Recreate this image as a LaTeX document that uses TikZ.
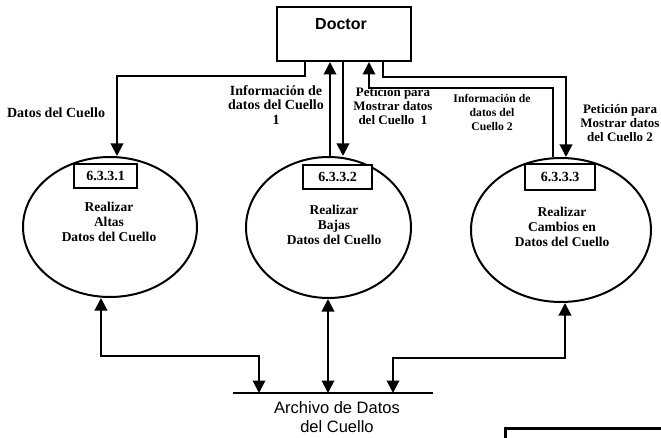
\documentclass[tikz,border=0pt]{standalone}
\usepackage{fontspec}
\setmainfont{Liberation Serif}
\setsansfont{Liberation Sans}
\usetikzlibrary{arrows.meta,shapes.geometric,calc}

\tikzset{
  tip/.tip={Triangle[length=12.5pt,width=12.5pt]},
  flow/.style={line width=2pt, -tip},
  twoway/.style={line width=2pt, tip-tip},
  process/.style={draw, ellipse, line width=2pt, inner sep=0pt},
  numbox/.style={draw, line width=2pt, fill=white, inner sep=0pt,
    font=\bfseries\fontsize{14}{14}\selectfont},
  proctext/.style={align=center, anchor=north, inner sep=0pt,
    font=\bfseries\fontsize{13.5}{15}\selectfont},
  flowlabel/.style={align=center, anchor=north, inner sep=0pt,
    font=\bfseries\fontsize{14}{14.5}\selectfont},
  smalllabel/.style={align=center, anchor=north, inner sep=0pt,
    font=\bfseries\fontsize{11.7}{14}\selectfont},
  entity/.style={draw, line width=2pt, inner sep=0pt},
}

\begin{document}
\begin{tikzpicture}[x=1pt,y=-1pt]
\useasboundingbox (0,0) rectangle (661,438);

% external entity
\node[entity, minimum width=134pt, minimum height=54pt] (doctor) at (344,34) {};
\node[font=\sffamily\bfseries\fontsize{16}{16}\selectfont] (doctortext) at (341,24) {Doctor};

% processes
\node[process, minimum width=174pt, minimum height=140pt] (e1) at (110,227) {};
\node[process, minimum width=165pt, minimum height=141pt] (e2) at (328.5,227.5) {};
\node[process, minimum width=180pt, minimum height=144pt] (e3) at (561,230) {};

\node[numbox, minimum width=63pt, minimum height=24pt] (n1) at (105.5,176) {6.3.3.1};
\node[numbox, minimum width=69pt, minimum height=24pt] (n2) at (337.5,177) {6.3.3.2};
\node[numbox, minimum width=70pt, minimum height=26pt] (n3) at (560,177) {6.3.3.3};

\node[proctext] (t1) at (109,202) {Realizar\\Altas\\Datos del Cuello};
\node[proctext] (t2) at (334,205) {Realizar\\Bajas\\Datos del Cuello};
\node[proctext] (t3) at (562,207) {Realizar\\Cambios en\\Datos del Cuello};

% data store
\coordinate (storeL) at (233,393);
\coordinate (storeR) at (433,393);
\draw[line width=2pt] (storeL) -- (storeR);
\node[align=center, anchor=north, inner sep=0pt,
      font=\sffamily\fontsize{16.5}{19}\selectfont] (storename) at (337,401)
      {Archivo de Datos\\del Cuello};

% flows between the doctor and the processes
\draw[flow] (305,0 |- doctor.south) |- (117,76) -- (117,0 |- e1.north);
\draw[flow] (330,0 |- e2.north) -- (330,0 |- doctor.south);
\draw[flow] (343,0 |- doctor.south) -- (343,0 |- e2.north);
\draw[flow] (553,0 |- e3.north) |- (369,88) -- (369,0 |- doctor.south);
\draw[flow] (383,0 |- doctor.south) |- (566,77) -- (566,0 |- e3.north);

% flows between the processes and the store
\draw[twoway] (101,0 |- e1.south) |- (259,356) -- (259,0 |- storeL);
\draw[twoway] (328,0 |- e2.south) -- (328,0 |- storeL);
\draw[twoway] (565,0 |- e3.south) |- (393,358) -- (393,0 |- storeL);

% flow labels
\node[flowlabel] (l1) at (56,108) {Datos del Cuello};
\node[flowlabel] (l2) at (276,85) {Información de\\datos del Cuello\\1};
\node[flowlabel, font=\bfseries\fontsize{13}{14}\selectfont] (l3) at (393,87)
  {Petición para\\Mostrar datos\\del Cuello\ \ 1};
\node[smalllabel] (l4) at (492,94) {Información de\\datos del\\Cuello 2};
\node[flowlabel, font=\bfseries\fontsize{13}{14}\selectfont] (l5) at (620,104)
  {Petición para\\Mostrar datos\\del Cuello 2};

% frame corner
\draw[line width=3pt] (505,438) -- (505,428) -- (661,428);
\end{tikzpicture}
\end{document}
